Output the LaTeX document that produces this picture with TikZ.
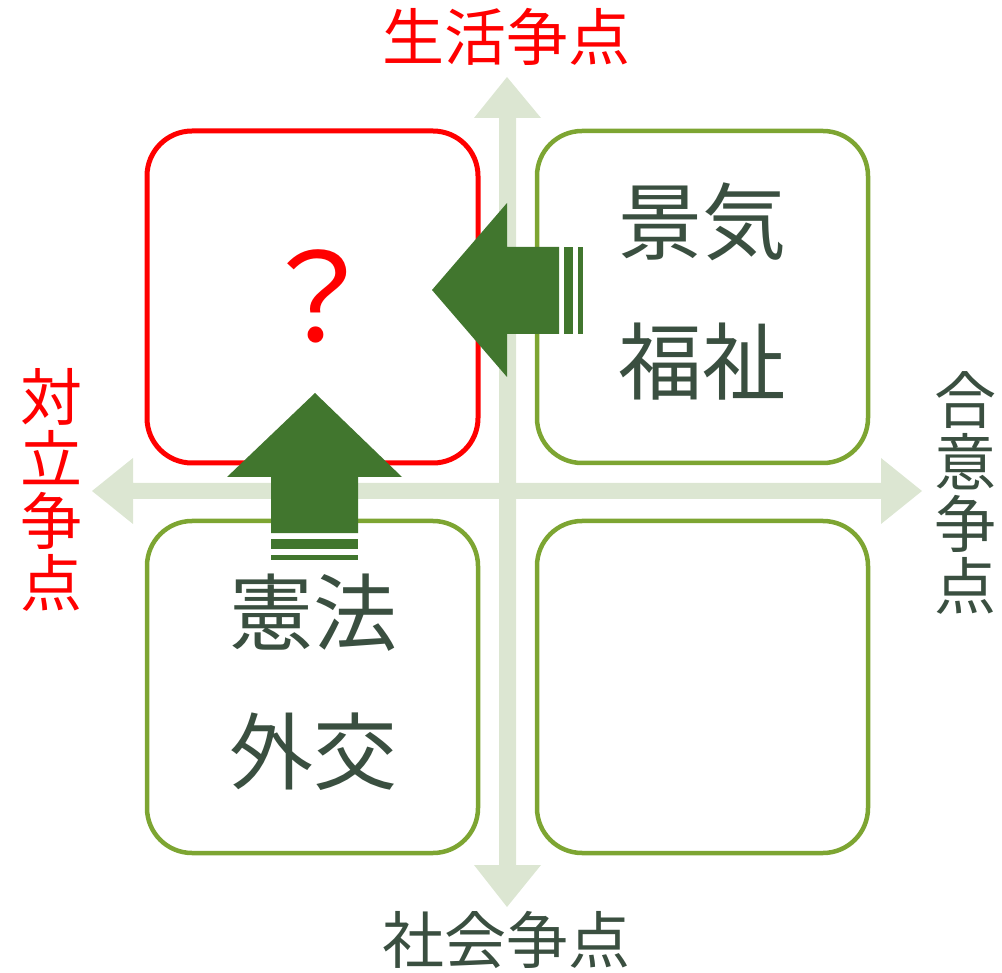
\documentclass[tikz,border=0pt]{standalone}
\usepackage{fontspec}
\setmainfont{Noto Sans CJK JP}
\definecolor{axisgreen}{HTML}{DCE6D2}
\definecolor{boxgreen}{HTML}{7DA532}
\definecolor{darkarrow}{HTML}{41762E}
\definecolor{textdark}{HTML}{3A4F40}
\definecolor{pure red}{HTML}{FF0000}
\tikzset{
  quad/.style={draw, rounded corners=45pt, minimum width=331pt, minimum height=332pt, inner sep=0pt, fill=white},
  greenquad/.style={quad, draw=boxgreen, line width=4.5pt},
  redquad/.style={quad, draw=pure red, line width=5pt},
  axislabel/.style={inner sep=0pt, font=\fontsize{62}{62}\selectfont},
  vlabel/.style={axislabel, align=center, font=\fontsize{62}{62}\selectfont},
  boxtext/.style={inner sep=0pt, text=textdark, font=\fontsize{84}{84}\selectfont},
  bigarrow/.style={fill=darkarrow, draw=none},
  axisshape/.style={fill=axisgreen, draw=none}
}
\begin{document}
\begin{tikzpicture}[x=1pt,y=-1pt]
\useasboundingbox (0,0) rectangle (1002,973);
% axes
\fill[axisshape] (499,118) -- (474,118) -- (507,77) -- (541,118) -- (516,118)
  -- (516,865) -- (541,865) -- (507,907) -- (474,865) -- (499,865) -- cycle;
\fill[axisshape] (133,483) -- (133,458) -- (92,491) -- (133,524) -- (133,499)
  -- (881,499) -- (881,524) -- (922,491) -- (881,458) -- (881,483) -- cycle;
% boxes
\node[redquad]   (q1) at (312.5,297) {};
\node[greenquad] (q2) at (702.5,297) {};
\node[greenquad] (q3) at (312.5,687) {};
\node[greenquad] (q4) at (702.5,687) {};
% box texts
\node[inner sep=0pt, text=pure red, font=\fontsize{122}{122}\selectfont] (qm) at (317,296) {？};
\node[boxtext] (t1) at (702,222) {景気};
\node[boxtext] (t2) at (702,362) {福祉};
\node[boxtext] (t3) at (313,613) {憲法};
\node[boxtext] (t4) at (313,752) {外交};
% axis labels
\node[axislabel, text=pure red] (top) at (506,37) {生活争点};
\node[axislabel, text=textdark] (bottom) at (506,940) {社会争点};
\node[vlabel, text=pure red] (left) at (51,490) {対\\立\\争\\点};
\node[vlabel, text=textdark] (right) at (965,493) {合\\意\\争\\点};
% dark arrows
\fill[bigarrow] (432,290) -- (507,203) -- (507,247) -- (559,247) -- (559,334)
  -- (507,334) -- (507,377) -- cycle;
\fill[bigarrow] (564,247) rectangle (573,334);
\fill[bigarrow] (578,247) rectangle (583,334);
\fill[bigarrow] (315,393) -- (402,477) -- (358,477) -- (358,533) -- (271,533)
  -- (271,477) -- (227,477) -- cycle;
\fill[bigarrow] (271,539) rectangle (358,549);
\fill[bigarrow] (271,555) rectangle (358,560);
\end{tikzpicture}
\end{document}
